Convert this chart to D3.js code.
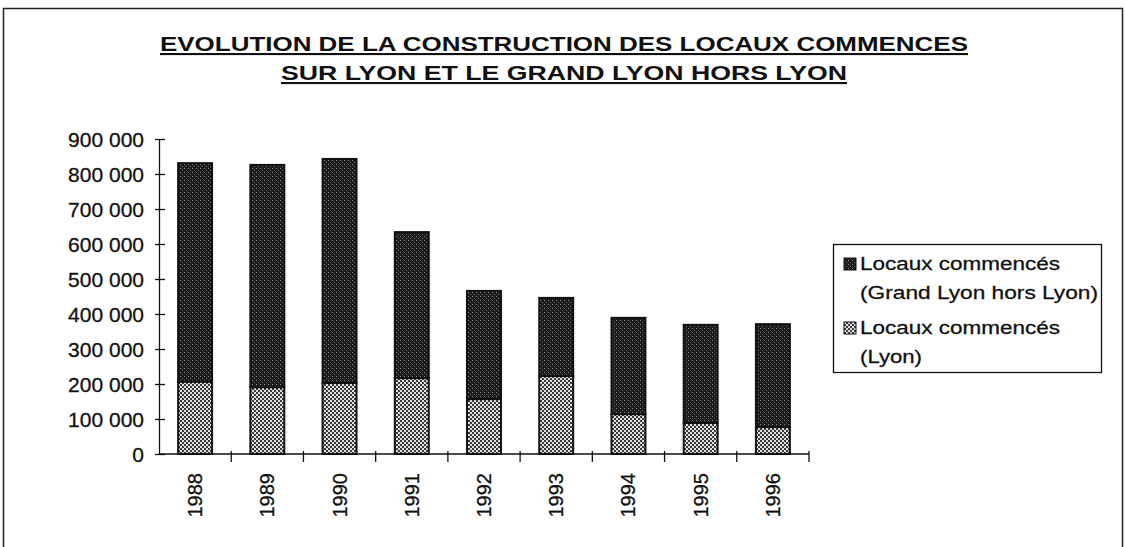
<!DOCTYPE html>
<html>
<head>
<meta charset="utf-8">
<script src="https://cdn.jsdelivr.net/npm/d3@7"></script>
<style>
  body { margin: 0; background: #fff; }
  svg { display: block; font-family: Arial, "Liberation Sans", sans-serif; }
</style>
</head>
<body>
<svg id="chart" width="1125" height="547"></svg>
<script>
var years = ['1988', '1989', '1990', '1991', '1992', '1993', '1994', '1995', '1996'];
var lyon = [207000, 191000, 203000, 217000, 157000, 223000, 114000, 89000, 77000];
var horsLyon = [624000, 635000, 640000, 417000, 309000, 223000, 275000, 280000, 294000];
var yTicks = [0, 100000, 200000, 300000, 400000, 500000, 600000, 700000, 800000, 900000];
var titleLines = ['EVOLUTION DE LA CONSTRUCTION DES LOCAUX COMMENCES', 'SUR LYON ET LE GRAND LYON HORS LYON'];
var legendItems = [
  { key: 'hors', lines: ['Locaux commencés', '(Grand Lyon hors Lyon)'] },
  { key: 'lyon', lines: ['Locaux commencés', '(Lyon)'] }
];

var svg = d3.select('#chart');
var defs = svg.append('defs');

// dark fill with light specks
var pDark = defs.append('pattern')
  .attr('id', 'pat-hors')
  .attr('patternUnits', 'userSpaceOnUse')
  .attr('width', 4).attr('height', 4);
pDark.append('rect').attr('width', 4).attr('height', 4).attr('fill', '#1c1c1c');
pDark.append('rect').attr('x', 0).attr('y', 0).attr('width', 1).attr('height', 1).attr('fill', '#8a8a8a');
pDark.append('rect').attr('x', 2).attr('y', 2).attr('width', 1).attr('height', 1).attr('fill', '#6a6a6a');

// checkered light fill
var pLight = defs.append('pattern')
  .attr('id', 'pat-lyon')
  .attr('patternUnits', 'userSpaceOnUse')
  .attr('width', 4).attr('height', 4);
pLight.append('rect').attr('width', 4).attr('height', 4).attr('fill', '#e0e0e0');
pLight.append('rect').attr('x', 0).attr('y', 0).attr('width', 2).attr('height', 2).attr('fill', '#3a3a3a');
pLight.append('rect').attr('x', 2).attr('y', 2).attr('width', 2).attr('height', 2).attr('fill', '#3a3a3a');

// outer frame
svg.append('rect')
  .attr('x', 3.5).attr('y', 8.5)
  .attr('width', 1119).attr('height', 545)
  .attr('fill', 'none').attr('stroke', '#222').attr('stroke-width', 1.5);

// title
var title = svg.append('g');
titleLines.forEach(function(t, i) {
  title.append('text')
    .attr('x', 564)
    .attr('y', 51 + i * 29)
    .attr('text-anchor', 'middle')
    .attr('font-size', 21)
    .attr('font-weight', 'bold')
    .attr('text-decoration', 'underline')
    .attr('textLength', i === 0 ? 808 : 566)
    .attr('lengthAdjust', 'spacingAndGlyphs')
    .attr('fill', '#111')
    .text(t);
});

var margin = { left: 159, right: 809, top: 139, bottom: 454 };

var x = d3.scaleBand()
  .domain(years)
  .range([margin.left, margin.right])
  .paddingInner(0.53)
  .paddingOuter(0.265);

var y = d3.scaleLinear()
  .domain([0, 900000])
  .range([margin.bottom, margin.top]);

var rows = years.map(function(yr, i) {
  return { year: yr, lyon: lyon[i], hors: horsLyon[i] };
});
var stack = d3.stack().keys(['lyon', 'hors']);
var series = stack(rows);

svg.append('g')
  .selectAll('g')
  .data(series)
  .join('g')
  .attr('fill', function(d) { return 'url(#pat-' + d.key + ')'; })
  .selectAll('rect')
  .data(function(d) { return d; })
  .join('rect')
  .attr('x', function(d) { return x(d.data.year); })
  .attr('y', function(d) { return y(d[1]); })
  .attr('width', x.bandwidth())
  .attr('height', function(d) { return y(d[0]) - y(d[1]); })
  .attr('stroke', '#111')
  .attr('stroke-width', 2);

// y axis
var yAxis = svg.append('g')
  .attr('transform', 'translate(' + margin.left + ',0)')
  .call(d3.axisLeft(y)
    .tickValues(yTicks)
    .tickSize(4)
    .tickSizeOuter(0)
    .tickFormat(function(d) { return d3.format(',')(d).replace(/,/g, ' '); }));
yAxis.selectAll('.tick line').attr('x2', 6).attr('x1', -4).attr('stroke', '#111').attr('stroke-width', 1.3);
yAxis.select('.domain').attr('stroke', '#111').attr('stroke-width', 1.3);
yAxis.selectAll('text')
  .attr('x', -15)
  .attr('dy', '0.36em')
  .attr('font-size', 21)
  .attr('font-family', 'Arial, "Liberation Sans", sans-serif')
  .attr('fill', '#111')
  .attr('stroke', '#111')
  .attr('stroke-width', 0.3);

// x axis: ticks between categories
var xg = svg.append('g')
  .attr('transform', 'translate(0,' + margin.bottom + ')');
xg.append('line')
  .attr('x1', margin.left).attr('x2', margin.right)
  .attr('stroke', '#111').attr('stroke-width', 1.3);
var step = x.step();
xg.selectAll('line.sep')
  .data(years)
  .join('line')
  .attr('class', 'sep')
  .attr('x1', function(d) { return x(d) - x.paddingOuter() * step + step; })
  .attr('x2', function(d) { return x(d) - x.paddingOuter() * step + step; })
  .attr('y1', -3).attr('y2', 8)
  .attr('stroke', '#111').attr('stroke-width', 1.3);

xg.selectAll('text')
  .data(years)
  .join('text')
  .attr('transform', function(d) {
    return 'translate(' + (x(d) + x.bandwidth() / 2 + 7) + ',19) rotate(-90)';
  })
  .attr('text-anchor', 'end')
  .attr('font-size', 20)
  .attr('fill', '#111')
  .attr('stroke', '#111')
  .attr('stroke-width', 0.3)
  .text(function(d) { return d; });

// legend
var legend = svg.append('g');
legend.append('rect')
  .attr('x', 833.5).attr('y', 244.5)
  .attr('width', 268).attr('height', 128)
  .attr('fill', '#fff').attr('stroke', '#111').attr('stroke-width', 1.3);

var legendBase = [270, 334];
var legendWidths = [[200, 238], [200, 62]];
legendItems.forEach(function(item, i) {
  var top = legendBase[i];
  legend.append('rect')
    .attr('x', 844).attr('y', top - 12)
    .attr('width', 12).attr('height', 12)
    .attr('fill', 'url(#pat-' + item.key + ')')
    .attr('stroke', '#111');
  item.lines.forEach(function(l, j) {
    legend.append('text')
      .attr('x', 860)
      .attr('y', top + j * 29)
      .attr('font-size', 19)
      .attr('textLength', legendWidths[i][j])
      .attr('lengthAdjust', 'spacingAndGlyphs')
      .attr('fill', '#111')
      .attr('stroke', '#111')
      .attr('stroke-width', 0.3)
      .text(l);
  });
});
</script>
</body>
</html>
